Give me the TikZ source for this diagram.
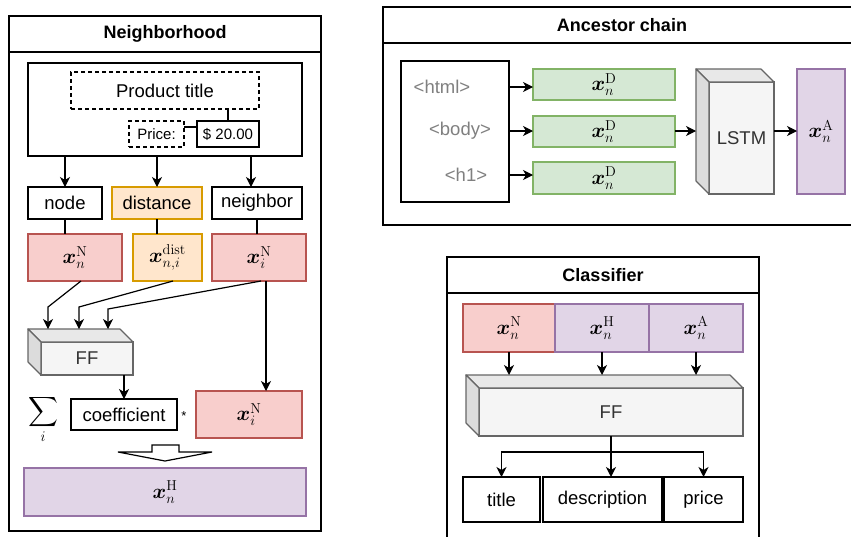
\RequirePackage{fix-cm}
\documentclass[tikz,border=0pt]{standalone}
\usepackage{amsmath}
\usepackage{bm}
\usepackage[no-math]{fontspec}
\setmainfont{Liberation Sans}
\usetikzlibrary{arrows.meta,calc}

\definecolor{redF}{HTML}{F8CECC}
\definecolor{redD}{HTML}{B85450}
\definecolor{orgF}{HTML}{FFE6CC}
\definecolor{orgD}{HTML}{D79B00}
\definecolor{grnF}{HTML}{D5E8D4}
\definecolor{grnD}{HTML}{82B366}
\definecolor{purF}{HTML}{E1D5E7}
\definecolor{purD}{HTML}{9673A6}
\definecolor{cubeF}{HTML}{F5F5F5}
\definecolor{cubeD}{HTML}{666666}
\definecolor{cubeT}{HTML}{333333}
\definecolor{cubeTop}{HTML}{E8E8E8}
\definecolor{cubeLeft}{HTML}{DCDCDC}
\definecolor{tagT}{HTML}{808080}

\tikzset{
  cell/.style={line width=1.2pt, inner sep=0pt, outer sep=0pt, anchor=north west,
    font=\fontsize{18.5}{22}\selectfont},
  wh/.style 2 args={minimum width=#1pt, minimum height=#2pt},
  box/.style={cell, draw=black, fill=white},
  dbox/.style={box, dash pattern=on 4pt off 3pt},
  hdr/.style={box, font=\fontsize{18}{22}\selectfont\bfseries},
  redbox/.style={cell, draw=redD, fill=redF, font=\huge},
  orgbox/.style={cell, draw=orgD, fill=orgF},
  orgmath/.style={orgbox, font=\huge},
  grnbox/.style={cell, draw=grnD, fill=grnF, font=\huge},
  purbox/.style={cell, draw=purD, fill=purF, font=\huge},
  cubebox/.style={cell, draw=cubeD, fill=cubeF, text=cubeT},
  tag/.style={inner sep=0pt, text=tagT, font=\fontsize{18.5}{22}\selectfont},
  conn/.style={line width=1.2pt},
  arr/.style={line width=1.2pt, -{Stealth[length=10pt,width=10pt,inset=3pt]}},
}

% top and left faces of a box drawn as a cube; #1 = front face node, #2 = depth
\newcommand\cubefaces[2]{%
  \filldraw[line width=1.2pt, draw=cubeD, fill=cubeTop, line join=round]
    (#1.north west) -- ++(-#2,-#2) -- ($(#1.north east)+(-#2,-#2)$) -- (#1.north east) -- cycle;
  \filldraw[line width=1.2pt, draw=cubeD, fill=cubeLeft, line join=round]
    (#1.north west) -- ++(-#2,-#2) -- ($(#1.south west)+(-#2,-#2)$) -- (#1.south west) -- cycle;
}

\begin{document}
\begin{tikzpicture}[x=1pt,y=-1pt]
\clip (0,0) rectangle (851,536);

% ---------------- Neighborhood ----------------
\node[box, wh={312}{515}] (nbhd) at (9,16) {};
\node[hdr, wh={312}{36}] (nbhdT) at (9,16) {Neighborhood};

\node[box, wh={274}{93}] (ctx) at (28,63) {};
\node[dbox, wh={188}{37}] (ptitle) at (71,72) {Product title};
\node[dbox, wh={55}{26}, font=\fontsize{15}{18}\selectfont] (price) at (129,121) {Price:};
\node[box, wh={62}{26}, font=\fontsize{15}{18}\selectfont] (pval) at (197,121) {\$ 20.00};
\draw[conn] (228,0 |- ptitle.south) -- (228,0 |- pval.north);
\draw[conn] (price.east |- 0,127) -- (pval.west |- 0,127);

\node[box, wh={74}{32}] (nodeb) at (28,187) {node};
\node[orgbox, wh={90}{32}] (distb) at (112,187) {distance};
\node[box, wh={90}{32}] (neighb) at (212,187) {neighbor};

\draw[arr] (nodeb.north |- ctx.south) -- (nodeb.north);
\draw[arr] (distb.north |- ctx.south) -- (distb.north);
\draw[arr] (251,0 |- ctx.south) -- (251,0 |- neighb.north);

\node[redbox, wh={94}{47}] (xnN) at (28,234) {$\bm{x}_n^{\mathrm{N}}$};
\node[orgmath, wh={69}{47}] (xdist) at (133,234) {$\bm{x}_{n,i}^{\mathrm{dist}}$};
\node[redbox, wh={94}{47}] (xiN) at (212,234) {$\bm{x}_i^{\mathrm{N}}$};

\draw[conn] (nodeb.south) -- (nodeb.south |- xnN.north);
\draw[conn] (distb.south) -- (distb.south |- xdist.north);
\draw[conn] (neighb.south) -- (neighb.south |- xiN.north);

% feed-forward block
\node[cubebox, wh={92}{33}] (ff1) at (41,342) {FF};
\cubefaces{ff1}{13}
\coordinate (ff1back) at ($(ff1.north)+(0,-13)$);

\draw[arr] (81,0 |- xnN.south) -- (48,307) -- (48,0 |- ff1back);
\draw[arr] (173,0 |- xdist.south) -- (79,307) -- (79,0 |- ff1back);
\draw[arr] (261,0 |- xiN.south) -- (108,309) -- (108,0 |- ff1back);

\node[box, wh={106}{31}] (coef) at (71,399) {coefficient};
\node[redbox, wh={106}{47}] (xiN2) at (196,391) {$\bm{x}_i^{\mathrm{N}}$};
\draw[arr] (coef.north |- ff1.south) -- (coef.north);
\draw[arr] (266,0 |- xiN.south) -- (266,0 |- xiN2.north);

\node[anchor=base, inner sep=0pt] (sum) at (43,417)
  {\fontsize{21}{25}\selectfont$\displaystyle\sum_{i}$};
\node[inner sep=0pt, font=\fontsize{13}{15}\selectfont] (star) at (184,416) {*};

% aggregation arrow
\coordinate (agg) at (165,445);
\draw[line width=1.2pt, fill=white, line join=miter]
  ($(agg)+(-13,0)$) -- ($(agg)+(14,0)$) -- ($(agg)+(14,7)$) -- ($(agg)+(47,7)$)
  -- ($(agg)+(0,16)$) -- ($(agg)+(-47,7)$) -- ($(agg)+(-13,7)$) -- cycle;

\node[purbox, wh={282}{48}] (xnH) at (24,468) {$\bm{x}_n^{\mathrm{H}}$};

% ---------------- Ancestor chain ----------------
\node[box, wh={478}{218}] (anc) at (383,7) {};
\node[hdr, wh={478}{36}] (ancT) at (383,7) {Ancestor chain};

\node[box, wh={108}{141}] (html) at (401,61) {};
\node[tag] (t1) at (442,87) {\textless html\textgreater};
\node[tag] (t2) at (460,131) {\textless body\textgreater};
\node[tag] (t3) at (466,175) {\textless h1\textgreater};

\node[grnbox, wh={142}{31}] (d1) at (533,69) {$\bm{x}_n^{\mathrm{D}}$};
\node[grnbox, wh={142}{31}] (d2) at (533,116) {$\bm{x}_n^{\mathrm{D}}$};
\node[grnbox, wh={142}{32}] (d3) at (533,162) {$\bm{x}_n^{\mathrm{D}}$};

\draw[arr] (html.east |- t1) -- (d1.west |- t1);
\draw[arr] (html.east |- t2) -- (d2.west |- t2);
\draw[arr] (html.east |- t3) -- (d3.west |- t3);

\node[cubebox, wh={65}{112}] (lstm) at (709,82) {LSTM};
\cubefaces{lstm}{13}
\node[purbox, wh={48}{125}] (xA) at (797,69) {$\bm{x}_n^{\mathrm{A}}$};

\draw[arr] (d2.east |- t2) -- ($(lstm.west |- t2)+(-13,0)$);
\draw[arr] (lstm.east |- t2) -- (xA.west |- t2);

% ---------------- Classifier ----------------
\node[box, wh={312}{300}] (cls) at (447,257) {};
\node[hdr, wh={312}{36}] (clsT) at (447,257) {Classifier};

\node[redbox, wh={92}{48}] (cN) at (463,304) {$\bm{x}_n^{\mathrm{N}}$};
\node[purbox, wh={94}{48}] (cH) at (555,304) {$\bm{x}_n^{\mathrm{H}}$};
\node[purbox, wh={94}{48}] (cA) at (649,304) {$\bm{x}_n^{\mathrm{A}}$};

\node[cubebox, wh={264}{48}] (ff2) at (479,388) {FF};
\cubefaces{ff2}{13}
\coordinate (ff2back) at ($(ff2.north)+(0,-13)$);

\draw[arr] (cN.south) -- (cN.south |- ff2back);
\draw[arr] (cH.south) -- (cH.south |- ff2back);
\draw[arr] (cA.south) -- (cA.south |- ff2back);

\node[box, wh={77}{45}] (ctitle) at (463,477) {title};
\node[box, wh={119}{45}] (cdesc) at (543,477) {description};
\node[box, wh={79}{45}] (cprice) at (664,477) {price};

\coordinate (split) at ($(ff2.south)+(0,16)$);
\draw[conn] (ff2.south) -- (split);
\draw[arr] (split) -| (ctitle.north);
\draw[arr] (split) -| (cprice.north);
\draw[arr] (split) -- (split |- cdesc.north);

\end{tikzpicture}
\end{document}
